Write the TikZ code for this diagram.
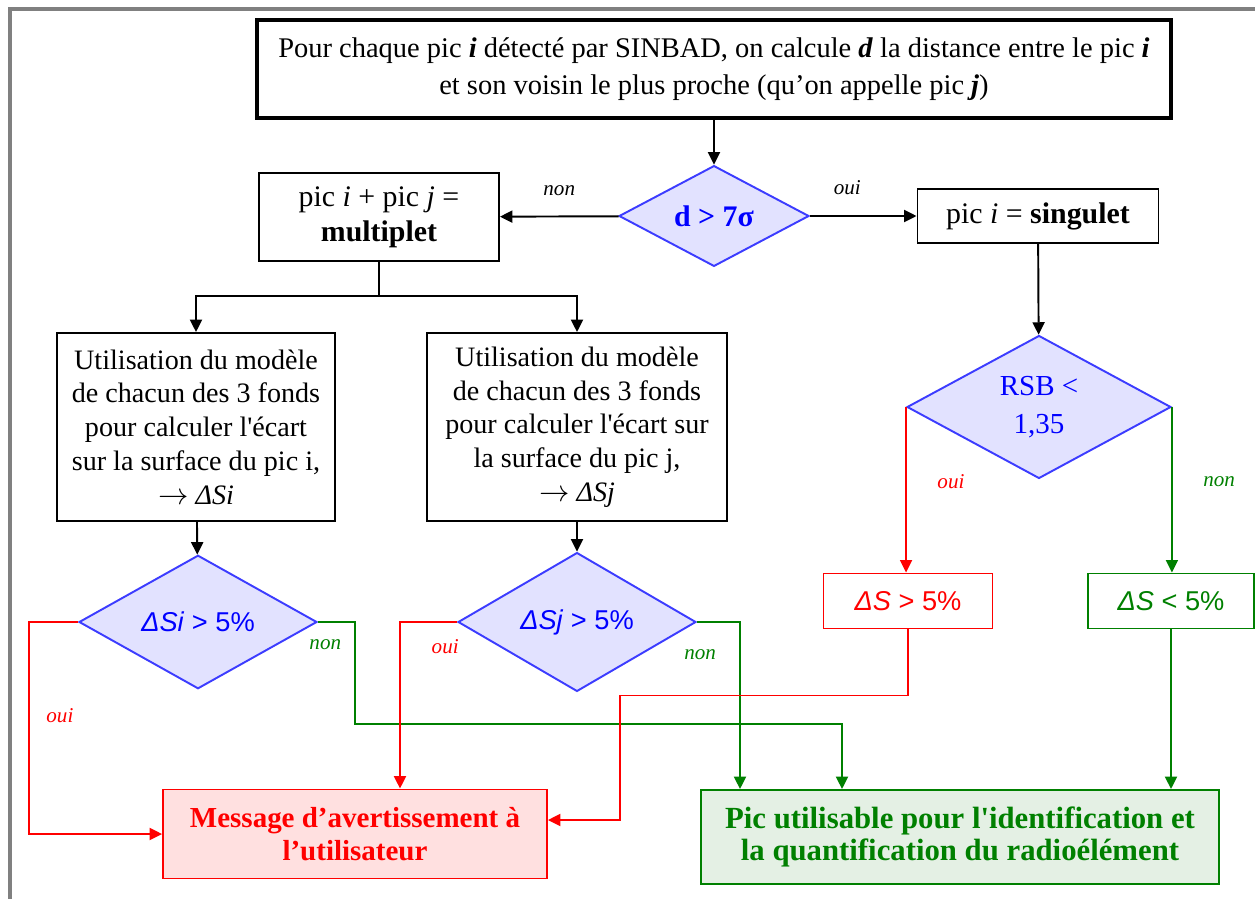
\documentclass[tikz,border=0pt]{standalone}
\usepackage{fontspec}
\setmainfont{Liberation Serif}
\setsansfont{Liberation Sans}
\usetikzlibrary{shapes.geometric,arrows.meta,positioning,calc}

\definecolor{dgreen}{RGB}{0,128,0}
\definecolor{dblue}{RGB}{60,60,255}
\definecolor{dfill}{RGB}{226,226,255}
\definecolor{wfill}{RGB}{255,224,224}
\definecolor{okfill}{RGB}{228,240,228}

\begin{document}
\begin{tikzpicture}[x=0.02cm, y=-0.02cm, >={Triangle[length=2.5mm,width=2.4mm]},
  box/.style={draw, line width=1.1pt, align=center, inner sep=2pt, font=\fontsize{16}{19.2}\selectfont},
  cond/.style={diamond, draw=dblue, fill=dfill, line width=1.1pt, inner sep=0pt, text=blue, align=center},
  lab/.style={font=\fontsize{12}{13}\selectfont\itshape},
  link/.style={line width=1.1pt},
  redlink/.style={link, red},
  greenlink/.style={link, dgreen}]
\useasboundingbox (0,0) rectangle (1255,899);
\draw[gray, line width=1.8pt] (10,899) -- (10,9) -- (1255,9);

% boxes
\node[box, line width=2pt, minimum width=18.28cm, minimum height=1.96cm, font=\fontsize{16.2}{21}\selectfont] (top) at (714,69)
  {Pour chaque pic \textbf{\textit{i}} détecté par SINBAD, on calcule \textbf{\textit{d}} la distance entre le pic \textbf{\textit{i}}\\ et son voisin le plus proche (qu’on appelle pic \textbf{\textit{j}})};
\node[cond, minimum width=3.8cm, minimum height=1.94cm, font=\fontsize{17}{19}\selectfont\bfseries] (dd) at (714,216) {d > 7σ};
\node[box, minimum width=4.8cm, minimum height=1.76cm, font=\fontsize{17}{20}\selectfont] (mult) at (379,217) {pic \textit{i} + pic \textit{j} =\\ \textbf{multiplet}};
\node[box, minimum width=4.82cm, minimum height=1.08cm, font=\fontsize{17}{20}\selectfont] (sing) at (1038,216) {pic \textit{i} = \textbf{singulet}};
\node[box, minimum width=5.56cm, minimum height=3.76cm] (si) at (196,427)
  {Utilisation du modèle\\ de chacun des 3 fonds\\ pour calculer l\textquotesingle écart\\ sur la surface du pic i,\\ $\rightarrow$ \textit{ΔSi}};
\node[box, minimum width=6cm, minimum height=3.76cm] (sj) at (577,427)
  {Utilisation du modèle\\ de chacun des 3 fonds\\ pour calculer l\textquotesingle écart sur\\ la surface du pic j,\\ $\rightarrow$ \textit{ΔSj}};
\node[cond, minimum width=4.76cm, minimum height=1.9cm, font=\fontsize{15.5}{18}\sffamily] (dsi) at (198,622) {\textit{ΔSi} > 5\%};
\node[cond, minimum width=4.76cm, minimum height=1.9cm, font=\fontsize{15.5}{18}\sffamily] (dsj) at (577,622) {\textit{ΔSj} > 5\%};
\node[cond, minimum width=5.28cm, minimum height=2.86cm, font=\fontsize{16.5}{21.5}\selectfont] (rsb) at (1039,407) {RSB <\\ 1,35};
\node[box, red, minimum width=3.38cm, minimum height=1.1cm, font=\fontsize{15.5}{18}\sffamily] (gtr) at (908,601) {\textit{ΔS} > 5\%};
\node[box, dgreen, minimum width=3.32cm, minimum height=1.1cm, font=\fontsize{15.5}{18}\sffamily] (lt) at (1171,601) {\textit{ΔS} < 5\%};
\node[box, draw=red, fill=wfill, text=red, minimum width=7.68cm, minimum height=1.78cm, font=\fontsize{16.5}{18.5}\selectfont\bfseries] (warn) at (355,834)
  {Message d’avertissement à\\ l’utilisateur};
\node[box, draw=dgreen, fill=okfill, text=dgreen, minimum width=10.38cm, minimum height=1.88cm, font=\fontsize{17.5}{18.5}\selectfont\bfseries] (ok) at (960,837)
  {Pic utilisable pour l\textquotesingle identification et\\ la quantification du radioélément};

% black connectors
\draw[link, ->] (top) -- (dd);
\draw[link, ->] (dd) -- node[lab, above, pos=0.5, yshift=8pt]{non} (mult);
\draw[link, ->] (dd) -- node[lab, above, pos=0.35, yshift=8pt]{oui} (sing);
\coordinate (fork) at (379,296);
\draw[link] (mult) -- (fork);
\foreach \b in {si, sj}
  \draw[link, ->] (fork) -| (\b.north);
\draw[link, ->] (si) -- (dsi);
\draw[link, ->] (sj) -- (dsj);
\draw[link, ->] (sing) -- (rsb);

% RSB branches
\draw[redlink, ->] (rsb.west) -- node[lab, red, right, pos=0.45, xshift=14pt]{oui} (rsb.west |- gtr.north);
\draw[greenlink, ->] (rsb.east) -- node[lab, dgreen, right, pos=0.45, xshift=14pt]{non} (rsb.east |- lt.north);

% to the final boxes
\draw[redlink, ->] (dsi.west) -- ++(-49,0) |- node[lab, pos=0.22, right, xshift=6pt]{oui} (warn.west);
\draw[greenlink, ->] (dsi.east) -- ++(37,0) node[lab, below left, xshift=-4pt, yshift=-6pt]{non} -- ++(0,102) -| ($(ok.north)+(-118,0)$);
\draw[redlink, ->] (dsj.west) -| node[lab, pos=0.15, below, xshift=3pt, yshift=-6pt]{oui} ($(warn.north)+(45,0)$);
\draw[greenlink, ->] (dsj.east) -| node[lab, pos=0.2, below, xshift=-8pt, yshift=-12pt]{non} ($(ok.north)+(-220,0)$);
\draw[redlink, ->] (gtr.south) -- ++(0,66) -| ($(warn.east)+(72,-14)$) -- ($(warn.east)+(0,-14)$);
\draw[greenlink, ->] (lt.south) -- (lt.south |- ok.north);
\end{tikzpicture}
\end{document}
